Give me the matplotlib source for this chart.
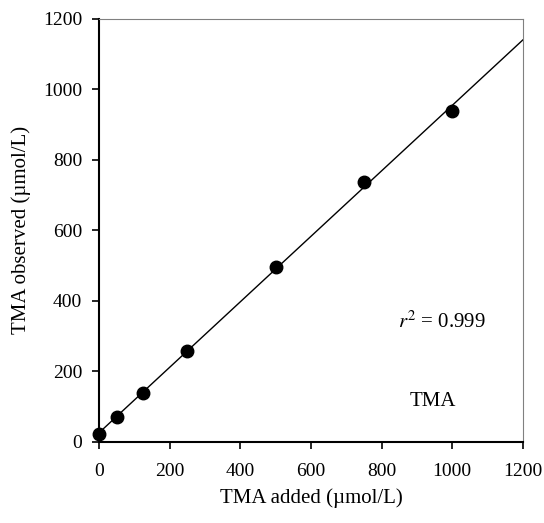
import matplotlib
matplotlib.use("Agg")
import matplotlib.pyplot as plt
import numpy as np

# TMA standard addition: added vs observed (umol/L)
tma_added = [0, 50, 125, 250, 500, 750, 1000]
tma_observed = [23, 71, 139, 258, 496, 738, 940]
x_ticks = [0, 200, 400, 600, 800, 1000, 1200]
y_ticks = [0, 200, 400, 600, 800, 1000, 1200]

plt.rcParams['font.family'] = ['Liberation Serif', 'DejaVu Serif']
plt.rcParams['mathtext.fontset'] = 'stix'

fig = plt.figure(figsize=(5.44, 5.23), dpi=100)
ax = fig.add_axes([0.182, 0.155, 0.779, 0.809])

# linear fit through the points
slope, intercept = np.polyfit(tma_added, tma_observed, 1)
fit_x = np.array([0, 1200])
ax.plot(fit_x, slope * fit_x + intercept, color='black', linewidth=1.0, zorder=2)
ax.plot(tma_added, tma_observed, 'o', color='black', markersize=9, zorder=3, clip_on=False)

ax.set_xlim(0, 1200)
ax.set_ylim(0, 1200)
ax.set_xticks(x_ticks)
ax.set_yticks(y_ticks)
ax.tick_params(direction='out', length=5, width=1.2, labelsize=14, colors='black')
ax.tick_params(axis='x', pad=10)
ax.tick_params(axis='y', pad=7)

ax.spines['left'].set_linewidth(1.5)
ax.spines['bottom'].set_linewidth(1.5)
ax.spines['top'].set_color('#808080')
ax.spines['right'].set_color('#808080')

ax.set_xlabel('TMA added (\u00b5mol/L)', fontsize=15, labelpad=6)
ax.set_ylabel('TMA observed (\u00b5mol/L)', fontsize=15, labelpad=9)

ax.text(846, 340, '$r^2$ = 0.999', fontsize=15, va='center', ha='left')
ax.text(945, 115, 'TMA', fontsize=15, va='center', ha='center')

fig.savefig('out.png', dpi=100)
